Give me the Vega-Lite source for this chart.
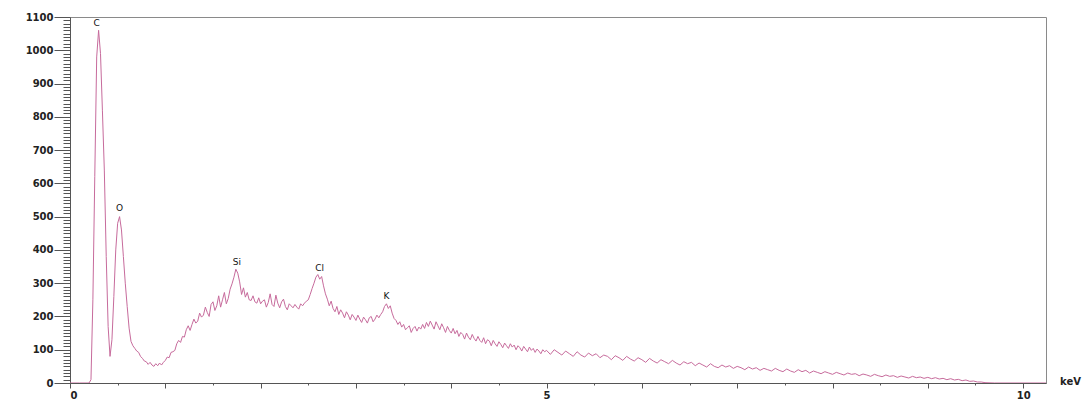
{
"$schema": "https://vega.github.io/schema/vega-lite/v6.json",
"width": 976, "height": 366,
"autosize": {"type": "none"},
"padding": {"left": 70, "top": 17, "right": 45, "bottom": 18},
"background": "white",
"config": {"view": {"stroke": "#8a8a8a", "strokeWidth": 1},
 "axis": {"labelFont": "DejaVu Sans", "labelFontWeight": "bold", "labelColor": "#222", "labelFontSize": 10, "domainColor": "#555", "tickColor": "#555", "grid": false}},
"datasets": {
"spec": [
{"e":0,"c":0},{"e":0.1,"c":0},{"e":0.2,"c":0},{"e":0.22,"c":10},{"e":0.24,"c":250},{"e":0.26,"c":620},{"e":0.28,"c":980},{"e":0.3,"c":1060},{"e":0.32,"c":990},{"e":0.34,"c":820},{"e":0.36,"c":640},{"e":0.38,"c":380},{"e":0.4,"c":170},{"e":0.42,"c":80},{"e":0.44,"c":130},{"e":0.46,"c":260},{"e":0.48,"c":400},{"e":0.5,"c":480},{"e":0.52,"c":500},{"e":0.54,"c":460},{"e":0.56,"c":380},{"e":0.58,"c":300},{"e":0.6,"c":230},{"e":0.62,"c":165},{"e":0.64,"c":125},{"e":0.66,"c":112},{"e":0.68,"c":104},{"e":0.7,"c":96},{"e":0.72,"c":92},{"e":0.74,"c":80},{"e":0.76,"c":74},{"e":0.78,"c":66},{"e":0.8,"c":64},{"e":0.82,"c":56},{"e":0.84,"c":62},{"e":0.86,"c":54},{"e":0.88,"c":50},{"e":0.9,"c":58},{"e":0.92,"c":52},{"e":0.94,"c":60},{"e":0.96,"c":54},{"e":0.98,"c":62},
{"e":1.0,"c":68},{"e":1.02,"c":78},{"e":1.04,"c":76},{"e":1.06,"c":92},{"e":1.08,"c":94},{"e":1.1,"c":98},{"e":1.12,"c":118},{"e":1.14,"c":128},{"e":1.16,"c":122},{"e":1.18,"c":140},{"e":1.2,"c":138},{"e":1.22,"c":160},{"e":1.24,"c":172},{"e":1.26,"c":158},{"e":1.28,"c":176},{"e":1.3,"c":192},{"e":1.32,"c":180},{"e":1.34,"c":186},{"e":1.36,"c":210},{"e":1.38,"c":198},{"e":1.4,"c":204},{"e":1.42,"c":228},{"e":1.44,"c":212},{"e":1.46,"c":200},{"e":1.48,"c":236},{"e":1.5,"c":244},{"e":1.52,"c":218},{"e":1.54,"c":232},{"e":1.56,"c":262},{"e":1.58,"c":228},{"e":1.6,"c":250},{"e":1.62,"c":272},{"e":1.64,"c":238},{"e":1.66,"c":254},{"e":1.68,"c":282},{"e":1.7,"c":298},{"e":1.72,"c":318},{"e":1.74,"c":342},{"e":1.76,"c":330},{"e":1.78,"c":304},{"e":1.8,"c":266},{"e":1.82,"c":286},{"e":1.84,"c":258},{"e":1.86,"c":272},{"e":1.88,"c":250},{"e":1.9,"c":248},{"e":1.92,"c":262},{"e":1.94,"c":244},{"e":1.96,"c":240},{"e":1.98,"c":256},
{"e":2.0,"c":238},{"e":2.02,"c":246},{"e":2.04,"c":250},{"e":2.06,"c":228},{"e":2.08,"c":242},{"e":2.1,"c":268},{"e":2.12,"c":236},{"e":2.14,"c":230},{"e":2.16,"c":264},{"e":2.18,"c":240},{"e":2.2,"c":226},{"e":2.22,"c":244},{"e":2.24,"c":252},{"e":2.26,"c":230},{"e":2.28,"c":220},{"e":2.3,"c":238},{"e":2.32,"c":232},{"e":2.34,"c":226},{"e":2.36,"c":236},{"e":2.38,"c":228},{"e":2.4,"c":222},{"e":2.42,"c":238},{"e":2.44,"c":232},{"e":2.46,"c":240},{"e":2.48,"c":246},{"e":2.5,"c":250},{"e":2.52,"c":266},{"e":2.54,"c":284},{"e":2.56,"c":300},{"e":2.58,"c":318},{"e":2.6,"c":326},{"e":2.62,"c":312},{"e":2.64,"c":320},{"e":2.66,"c":292},{"e":2.68,"c":268},{"e":2.7,"c":252},{"e":2.72,"c":232},{"e":2.74,"c":246},{"e":2.76,"c":224},{"e":2.78,"c":214},{"e":2.8,"c":230},{"e":2.82,"c":206},{"e":2.84,"c":220},{"e":2.86,"c":210},{"e":2.88,"c":196},{"e":2.9,"c":214},{"e":2.92,"c":204},{"e":2.94,"c":190},{"e":2.96,"c":206},{"e":2.98,"c":198},
{"e":3.0,"c":188},{"e":3.02,"c":204},{"e":3.04,"c":192},{"e":3.06,"c":182},{"e":3.08,"c":198},{"e":3.1,"c":190},{"e":3.12,"c":180},{"e":3.14,"c":196},{"e":3.16,"c":200},{"e":3.18,"c":184},{"e":3.2,"c":192},{"e":3.22,"c":204},{"e":3.24,"c":196},{"e":3.26,"c":206},{"e":3.28,"c":214},{"e":3.3,"c":230},{"e":3.32,"c":238},{"e":3.34,"c":224},{"e":3.36,"c":232},{"e":3.38,"c":210},{"e":3.4,"c":194},{"e":3.42,"c":188},{"e":3.44,"c":176},{"e":3.46,"c":184},{"e":3.48,"c":168},{"e":3.5,"c":176},{"e":3.52,"c":160},{"e":3.54,"c":166},{"e":3.56,"c":172},{"e":3.58,"c":152},{"e":3.6,"c":164},{"e":3.62,"c":170},{"e":3.64,"c":156},{"e":3.66,"c":168},{"e":3.68,"c":162},{"e":3.7,"c":176},{"e":3.72,"c":164},{"e":3.74,"c":182},{"e":3.76,"c":170},{"e":3.78,"c":186},{"e":3.8,"c":174},{"e":3.82,"c":162},{"e":3.84,"c":184},{"e":3.86,"c":172},{"e":3.88,"c":160},{"e":3.9,"c":178},{"e":3.92,"c":166},{"e":3.94,"c":152},{"e":3.96,"c":170},{"e":3.98,"c":158},
{"e":4.0,"c":150},{"e":4.02,"c":164},{"e":4.04,"c":148},{"e":4.06,"c":158},{"e":4.08,"c":140},{"e":4.1,"c":152},{"e":4.12,"c":146},{"e":4.14,"c":132},{"e":4.16,"c":150},{"e":4.18,"c":138},{"e":4.2,"c":130},{"e":4.22,"c":146},{"e":4.24,"c":134},{"e":4.26,"c":126},{"e":4.28,"c":140},{"e":4.3,"c":128},{"e":4.32,"c":122},{"e":4.34,"c":136},{"e":4.36,"c":118},{"e":4.38,"c":130},{"e":4.4,"c":126},{"e":4.42,"c":112},{"e":4.44,"c":128},{"e":4.46,"c":118},{"e":4.48,"c":110},{"e":4.5,"c":124},{"e":4.52,"c":116},{"e":4.54,"c":106},{"e":4.56,"c":120},{"e":4.58,"c":112},{"e":4.6,"c":104},{"e":4.62,"c":118},{"e":4.64,"c":108},{"e":4.66,"c":114},{"e":4.68,"c":100},{"e":4.7,"c":112},{"e":4.72,"c":106},{"e":4.74,"c":96},{"e":4.76,"c":110},{"e":4.78,"c":102},{"e":4.8,"c":94},{"e":4.82,"c":108},{"e":4.84,"c":98},{"e":4.86,"c":104},{"e":4.88,"c":92},{"e":4.9,"c":102},{"e":4.92,"c":96},{"e":4.94,"c":88},{"e":4.96,"c":100},{"e":4.98,"c":94},
{"e":5.0,"c":98},{"e":5.04,"c":86},{"e":5.08,"c":100},{"e":5.12,"c":92},{"e":5.16,"c":84},{"e":5.2,"c":96},{"e":5.24,"c":88},{"e":5.28,"c":80},{"e":5.32,"c":94},{"e":5.36,"c":84},{"e":5.4,"c":78},{"e":5.44,"c":90},{"e":5.48,"c":82},{"e":5.52,"c":88},{"e":5.56,"c":76},{"e":5.6,"c":84},{"e":5.64,"c":80},{"e":5.68,"c":70},{"e":5.72,"c":82},{"e":5.76,"c":76},{"e":5.8,"c":68},{"e":5.84,"c":80},{"e":5.88,"c":72},{"e":5.92,"c":66},{"e":5.96,"c":76},
{"e":6.0,"c":70},{"e":6.04,"c":62},{"e":6.08,"c":74},{"e":6.12,"c":66},{"e":6.16,"c":60},{"e":6.2,"c":70},{"e":6.24,"c":64},{"e":6.28,"c":58},{"e":6.32,"c":68},{"e":6.36,"c":60},{"e":6.4,"c":54},{"e":6.44,"c":64},{"e":6.48,"c":58},{"e":6.52,"c":62},{"e":6.56,"c":52},{"e":6.6,"c":60},{"e":6.64,"c":54},{"e":6.68,"c":48},{"e":6.72,"c":58},{"e":6.76,"c":50},{"e":6.8,"c":46},{"e":6.84,"c":54},{"e":6.88,"c":48},{"e":6.92,"c":52},{"e":6.96,"c":44},
{"e":7.0,"c":50},{"e":7.04,"c":46},{"e":7.08,"c":40},{"e":7.12,"c":48},{"e":7.16,"c":42},{"e":7.2,"c":46},{"e":7.24,"c":38},{"e":7.28,"c":44},{"e":7.32,"c":40},{"e":7.36,"c":36},{"e":7.4,"c":44},{"e":7.44,"c":38},{"e":7.48,"c":34},{"e":7.52,"c":42},{"e":7.56,"c":36},{"e":7.6,"c":32},{"e":7.64,"c":40},{"e":7.68,"c":34},{"e":7.72,"c":38},{"e":7.76,"c":30},{"e":7.8,"c":36},{"e":7.84,"c":32},{"e":7.88,"c":28},{"e":7.92,"c":34},{"e":7.96,"c":30},
{"e":8.0,"c":26},{"e":8.04,"c":32},{"e":8.08,"c":28},{"e":8.12,"c":24},{"e":8.16,"c":30},{"e":8.2,"c":26},{"e":8.24,"c":28},{"e":8.28,"c":22},{"e":8.32,"c":27},{"e":8.36,"c":24},{"e":8.4,"c":20},{"e":8.44,"c":26},{"e":8.48,"c":22},{"e":8.52,"c":19},{"e":8.56,"c":24},{"e":8.6,"c":20},{"e":8.64,"c":22},{"e":8.68,"c":17},{"e":8.72,"c":21},{"e":8.76,"c":18},{"e":8.8,"c":15},{"e":8.84,"c":20},{"e":8.88,"c":16},{"e":8.92,"c":18},{"e":8.96,"c":14},
{"e":9.0,"c":17},{"e":9.04,"c":13},{"e":9.08,"c":16},{"e":9.12,"c":12},{"e":9.16,"c":14},{"e":9.2,"c":10},{"e":9.24,"c":13},{"e":9.28,"c":9},{"e":9.32,"c":11},{"e":9.36,"c":7},{"e":9.4,"c":9},{"e":9.44,"c":5},{"e":9.48,"c":6},{"e":9.52,"c":3},{"e":9.56,"c":3},{"e":9.6,"c":1},{"e":9.7,"c":0},{"e":10.24,"c":0}
],
"peaks": [
{"e":0.28,"c":1083,"label":"C"},{"e":0.52,"c":525,"label":"O"},{"e":1.75,"c":363,"label":"Si"},{"e":2.62,"c":345,"label":"Cl"},{"e":3.32,"c":261,"label":"K"}
]
},
"layer": [
{"data": {"name": "spec"},
 "mark": {"type": "line", "color": "#c76b9c", "strokeWidth": 1, "clip": true},
 "encoding": {
  "x": {"field": "e", "type": "quantitative", "scale": {"domain": [0, 10.24], "nice": false, "zero": false},
   "axis": {"orient": "bottom", "values": [0,1,2,3,4,5,6,7,8,9,10], "labelExpr": "datum.value % 5 === 0 ? datum.label : ''", "tickSize": 5, "labelPadding": 2, "labelFontSize": 10,
    "title": "keV", "titleFont": "DejaVu Sans", "titleFontWeight": "bold", "titleFontSize": 10, "titleColor": "#222", "titleX": 1000, "titleY": -2, "titleBaseline": "middle", "titleAlign": "center", "titleAnchor": null}},
  "y": {"field": "c", "type": "quantitative", "scale": {"domain": [0, 1100], "nice": false},
   "axis": {"orient": "left", "values": [0,100,200,300,400,500,600,700,800,900,1000,1100], "format": "d", "tickSize": 16, "labelPadding": 1, "title": null}}
 }},
{"data": {"name": "spec"},
 "mark": {"type": "point", "opacity": 0},
 "encoding": {
  "x": {"field": "e", "type": "quantitative", "axis": {"orient": "bottom", "values": [0.5,1.5,2.5,3.5,4.5,5.5,6.5,7.5,8.5,9.5], "tickSize": 2, "labels": false, "domain": false, "title": null}},
  "y": {"field": "c", "type": "quantitative", "axis": {"orient": "left", "values": [10,20,30,40,50,60,70,80,90,110,120,130,140,150,160,170,180,190,210,220,230,240,250,260,270,280,290,310,320,330,340,350,360,370,380,390,410,420,430,440,450,460,470,480,490,510,520,530,540,550,560,570,580,590,610,620,630,640,650,660,670,680,690,710,720,730,740,750,760,770,780,790,810,820,830,840,850,860,870,880,890,910,920,930,940,950,960,970,980,990,1010,1020,1030,1040,1050,1060,1070,1080,1090], "tickSize": 7, "labels": false, "domain": false, "title": null}}
 }},
{"data": {"name": "peaks"},
 "mark": {"type": "text", "font": "DejaVu Sans", "fontSize": 9, "color": "#111", "baseline": "middle", "align": "center"},
 "encoding": {
  "x": {"field": "e", "type": "quantitative", "axis": null},
  "y": {"field": "c", "type": "quantitative", "axis": null},
  "text": {"field": "label"}
 }}
],
"resolve": {"axis": {"x": "independent", "y": "independent"}}
}
